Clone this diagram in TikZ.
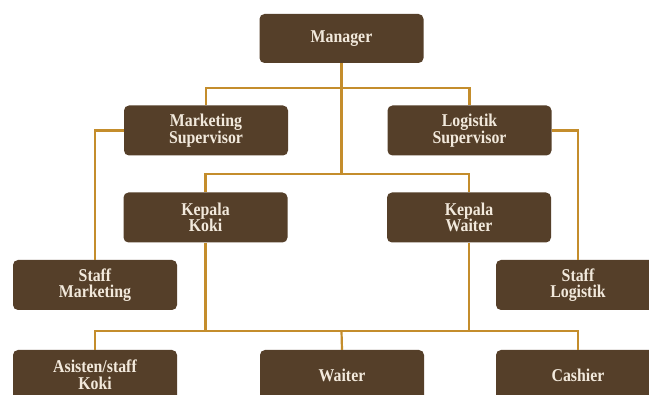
\documentclass[tikz,border=0pt]{standalone}
\usepackage{fontspec}
\setmainfont[FakeStretch=0.88]{Liberation Serif}
\definecolor{boxbrown}{HTML}{553F29}
\definecolor{linegold}{HTML}{C48D2C}
\definecolor{txt}{HTML}{F2E9DC}
\begin{document}
\begin{tikzpicture}[x=1pt,y=-1pt,
  box/.style={draw=none,fill=boxbrown,rounded corners=5pt,minimum width=164pt,minimum height=50pt,
    text=txt,font=\fontsize{18}{16.5}\selectfont\bfseries,align=center,inner sep=0pt},
  conn/.style={draw=linegold,line width=2.2pt}]
\clip (0,0) rectangle (649,395);
\fill[white] (0,0) rectangle (649,395);
\node[box,minimum height=49pt] (M) at (341.5,38.5) {Manager};
\node[box] (MS) at (206,130.5) {Marketing\\Supervisor};
\node[box] (LS) at (469.5,130.5) {Logistik\\Supervisor};
\node[box] (KK) at (205.5,217.5) {Kepala\\Koki};
\node[box] (KW) at (469,217.5) {Kepala\\Waiter};
\node[box] (SM) at (95,285) {Staff\\Marketing};
\node[box] (SL) at (578,285) {Staff\\Logistik};
\node[box] (AK) at (95,375) {Asisten/staff\\Koki};
\node[box] (W) at (342,375) {Waiter};
\node[box] (C) at (578,375) {Cashier};
\coordinate (j1) at (341.5,88);
\coordinate (j2) at (341.5,174);
\coordinate (j3) at (341.5,331);
\draw[conn] (M.south) -- (j2);
\draw[conn] (MS.north) |- (j1) -| (LS.north);
\draw[conn] (KK.north) |- (j2) -| (KW.north);
\draw[conn] (MS.west) -| (SM.north);
\draw[conn] (LS.east) -| (SL.north);
\draw[conn] (AK.north) |- (j3) -| (C.north);
\draw[conn] (KK.south) -- (KK.south |- j3);
\draw[conn] (KW.south) -- (KW.south |- j3);
\draw[conn] (j3) -- (W.north);
\end{tikzpicture}
\end{document}
